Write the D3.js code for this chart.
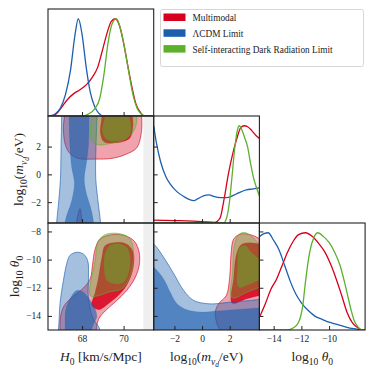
<!DOCTYPE html>
<html>
<head>
<meta charset="utf-8">
<script src="https://cdn.jsdelivr.net/npm/d3@7"></script>
<style>
  body { margin: 0; background: #fff; }
  svg { display: block; }
  text { font-family: "Liberation Serif", "DejaVu Serif", serif; fill: #222; }
</style>
</head>
<body>
<div id="chart"></div>
<script>
// series
const names = ["Multimodal", "ΛCDM Limit", "Self-interacting Dark Radiation Limit"];
const colors = ["#d6001c", "#1d5fae", "#5cb02c"];
const opac95 = [0.36, 0.4, 0.36];
const opac68 = [0.85, 0.62, 0.5];

// ticks
const h0Ticks = [68, 70];
const mTicks = [-2, 0, 2];
const thRowTicks = [-14, -12, -10, -8];
const thColTicks = [-14, -12, -10];
const priorH0 = 70.95; // grey band above this H0

// 1D marginals [value, density]
const pdfH0Multi = [[66.36,0],[66.55,0],[66.8,0.03],[67.05,0.1],[67.3,0.17],[67.6,0.23],[67.9,0.27],[68.2,0.32],[68.5,0.4],[68.75,0.5],[68.95,0.65],[69.2,0.85],[69.4,0.97],[69.6,1.0],[69.8,0.93],[70.0,0.75],[70.2,0.52],[70.4,0.3],[70.6,0.12],[70.8,0.04],[71.0,0],[71.45,0]];
const pdfH0Lcdm = [[66.36,0],[66.6,0.01],[66.8,0.04],[66.95,0.08],[67.2,0.22],[67.45,0.48],[67.65,0.82],[67.82,1.0],[68.0,0.84],[68.2,0.5],[68.4,0.24],[68.6,0.1],[68.8,0.03],[69.05,0],[71.45,0]];
const pdfH0Sidr = [[66.36,0],[68.0,0],[68.3,0.02],[68.6,0.07],[68.85,0.18],[69.05,0.42],[69.25,0.75],[69.45,0.95],[69.65,1.0],[69.85,0.9],[70.05,0.7],[70.25,0.45],[70.45,0.22],[70.65,0.08],[70.85,0.02],[71.05,0],[71.45,0]];

const pdfMMulti = [[-3.5,0.03],[-2,0.025],[0,0.015],[0.9,0.006],[1.3,0.05],[1.6,0.25],[1.9,0.5],[2.2,0.7],[2.5,0.86],[2.8,0.98],[3.05,1.0],[3.3,0.99],[3.6,0.95],[3.9,0.9],[4.15,0.87]];
const pdfMLcdm = [[-3.5,1.0],[-3.3,0.82],[-3.0,0.63],[-2.6,0.47],[-2.3,0.4],[-1.8,0.32],[-1.3,0.27],[-0.9,0.24],[-0.6,0.23],[-0.3,0.25],[0.1,0.28],[0.5,0.29],[0.9,0.27],[1.3,0.26],[1.8,0.26],[2.5,0.3],[3.2,0.34],[3.7,0.35],[4.15,0.36]];
const pdfMSidr = [[-3.5,0],[1.55,0],[1.75,0.04],[1.95,0.18],[2.15,0.45],[2.35,0.75],[2.55,0.95],[2.7,1.0],[2.9,0.95],[3.1,0.87],[3.3,0.78],[3.5,0.62],[3.7,0.48],[3.9,0.38],[4.15,0.28]];

const pdfThMulti = [[-15.03,0.13],[-14.6,0.27],[-14.2,0.42],[-13.8,0.52],[-13.4,0.66],[-13.0,0.8],[-12.6,0.91],[-12.2,0.98],[-11.7,1.0],[-11.2,0.96],[-10.7,0.88],[-10.3,0.8],[-9.9,0.68],[-9.5,0.53],[-9.1,0.36],[-8.7,0.18],[-8.3,0.07],[-7.9,0.02],[-7.6,0],[-7.4,0]];
const pdfThLcdm = [[-15.03,0.96],[-14.7,0.99],[-14.4,1.0],[-14.0,0.92],[-13.6,0.82],[-13.2,0.66],[-12.8,0.5],[-12.4,0.37],[-12.0,0.28],[-11.5,0.2],[-11.0,0.14],[-10.5,0.11],[-10.0,0.08],[-9.5,0.06],[-9.0,0.04],[-8.5,0.02],[-8.0,0.01],[-7.6,0],[-7.4,0]];
const pdfThSidr = [[-15.03,0],[-13.0,0],[-12.6,0.02],[-12.2,0.08],[-11.9,0.25],[-11.7,0.5],[-11.4,0.8],[-11.1,0.95],[-10.8,1.0],[-10.4,0.96],[-10.0,0.9],[-9.6,0.8],[-9.2,0.66],[-8.9,0.5],[-8.7,0.38],[-8.4,0.2],[-8.2,0.1],[-7.9,0.03],[-7.6,0],[-7.4,0]];

// 2D contours (95% and 68%), [x, y] in data units
const h0mMulti95 = [[67.2,6],[67.15,4.2],[67.1,3.3],[67.2,2.1],[67.42,1.5],[67.82,1.15],[68.63,1.1],[69.43,1.15],[70.07,1.42],[70.63,1.9],[70.84,2.85],[70.88,3.8],[70.85,4.5],[70.8,6]];
const h0mMultiLow = [[67.68,-5],[67.72,-3.6],[67.9,-2.47],[68.0,-3.6],[68.06,-5]];
const h0mMulti68 = [[69.0,6],[68.95,4.2],[68.88,3.0],[69.05,2.35],[69.7,2.28],[70.3,2.6],[70.45,3.4],[70.42,4.5],[70.4,6]];
const h0mLcdm95 = [[67.03,6.5],[67.02,4.2],[66.99,2.1],[66.96,-0.3],[66.86,-2.2],[66.75,-3.9],[66.7,-5.5],[68.95,-5.5],[68.92,-3.9],[68.79,-2.2],[68.66,-0.3],[68.67,2.1],[68.72,4.2],[68.74,6.5]];
const h0mLcdm68 = [[67.36,6.5],[67.37,4.2],[67.41,2.1],[67.5,0.5],[67.63,-0.6],[67.5,-1.9],[67.18,-3.4],[67.1,-5.5],[68.62,-5.5],[68.59,-3.9],[68.47,-2.7],[68.18,-1.2],[68.11,-0.3],[68.22,0.9],[68.31,2.1],[68.34,4.2],[68.35,6.5]];
const h0mSidr95 = [[68.5,6],[68.47,4.2],[68.39,3.1],[68.47,2.4],[68.79,2.13],[69.43,2.25],[70.07,2.5],[70.47,3.1],[70.63,3.8],[70.6,4.5],[70.6,6]];
const h0mSidr68 = [[69.15,6],[69.11,4.2],[68.98,3.1],[69.19,2.5],[69.75,2.42],[70.23,2.73],[70.36,3.45],[70.25,4.3],[70.2,6]];

const h0thMulti95 = [[66.9,-16.5],[66.94,-15.4],[66.96,-14.08],[67.15,-13.25],[67.58,-12.61],[68.06,-12.03],[68.39,-11.37],[68.51,-10.31],[68.63,-9.25],[68.87,-8.54],[69.43,-8.23],[70.07,-8.3],[70.52,-8.7],[70.75,-9.48],[70.75,-10.42],[70.55,-11.3],[70.15,-12.19],[69.59,-13.02],[69.11,-13.65],[68.79,-14.26],[68.65,-15.4],[68.6,-16.5]];
const h0thMulti68 = [[68.47,-13.25],[68.63,-12.31],[68.79,-11.25],[68.95,-9.84],[69.11,-9.0],[69.59,-8.78],[70.15,-8.89],[70.47,-9.48],[70.47,-10.54],[70.23,-11.6],[69.83,-12.43],[69.27,-13.13],[68.79,-13.56]];
const h0thLcdm95 = [[66.7,-16.5],[66.86,-15.0],[66.94,-13.1],[67.1,-11.5],[67.26,-10.3],[67.42,-9.7],[67.74,-9.48],[68.06,-9.6],[68.27,-10.07],[68.31,-11.25],[68.3,-12.66],[68.5,-14.08],[68.87,-15.0],[68.95,-16.5]];
const h0thLcdm68 = [[67.15,-16.5],[67.18,-15.0],[67.21,-13.6],[67.42,-12.78],[67.74,-12.2],[68.06,-12.31],[68.39,-12.9],[68.63,-13.5],[68.71,-14.08],[68.55,-14.6],[68.47,-15.0],[68.45,-16.5]];
const h0thSidr95 = [[68.39,-12.54],[68.63,-10.07],[68.79,-8.66],[69.19,-8.19],[69.91,-8.19],[70.31,-8.54],[70.47,-9.36],[70.43,-10.54],[70.23,-11.48],[69.91,-12.07],[69.27,-12.31],[68.63,-12.61]];
const h0thSidr68 = [[69.08,-10.78],[69.11,-9.6],[69.35,-9.0],[69.75,-8.89],[70.15,-9.13],[70.31,-9.84],[70.23,-11.0],[69.99,-11.6],[69.59,-11.72],[69.19,-11.48]];

const mthMulti95 = [[1.5,-16.5],[1.45,-15.4],[1.08,-14.55],[0.96,-13.72],[1.2,-13.13],[1.76,-12.54],[2.0,-11.25],[2.1,-9.6],[2.29,-8.54],[2.78,-8.19],[3.5,-8.23],[3.98,-8.42],[4.6,-8.8],[5.2,-9.3],[5.2,-16.5]];
const mthMulti68 = [[2.17,-13.09],[2.29,-11.25],[2.49,-9.6],[2.82,-8.94],[3.5,-8.8],[4.22,-8.89],[5,-9.0],[5,-12.5],[4.22,-12.54],[3.26,-12.78]];
const mthLcdm95 = [[-4.5,-8.3],[-3.5,-8.89],[-2.78,-9.84],[-2.05,-11.0],[-1.33,-12.19],[-0.61,-12.9],[0.36,-13.13],[1.08,-13.13],[2.05,-13.02],[3.5,-12.9],[4.5,-12.78],[5,-12.7],[5,-16.5],[-4.5,-16.5]];
const mthLcdm68 = [[-4.5,-10.0],[-3.5,-10.54],[-2.78,-11.37],[-2.3,-12.31],[-1.81,-13.13],[-1.09,-13.56],[-0.12,-13.72],[1.08,-13.65],[2.29,-13.56],[4.22,-13.42],[5,-13.35],[5,-16.5],[-4.5,-16.5]];
const mthSidr95 = [[2.17,-12.71],[2.22,-10.78],[2.34,-9.0],[2.65,-8.23],[3.07,-8.07],[3.62,-8.37],[4.1,-8.85],[4.6,-9.2],[5,-9.5],[5,-11.9],[4.22,-11.96],[3.26,-12.31]];
const mthSidr68 = [[2.65,-11.96],[2.58,-10.31],[2.73,-9.13],[3.14,-9.0],[3.5,-9.41],[3.98,-9.84],[4.6,-10.2],[5,-10.4],[5,-11.4],[4.22,-11.44],[3.5,-11.72]];

// layout
const L = 48, T = 9, W = 105.7, H = 107;
const svg = d3.select("#chart").append("svg")
  .attr("width", 374)
  .attr("height", 374);

const xH0 = d3.scaleLinear().domain([66.36, 71.45]).range([L, L + W]);
const xM = d3.scaleLinear().domain([-3.5, 4.15]).range([L + W, L + 2 * W]);
const xTh = d3.scaleLinear().domain([-15.03, -7.4]).range([L + 2 * W, L + 3 * W]);
const yM = d3.scaleLinear().domain([-3.5, 4.2]).range([T + 2 * H, T + H]);
const yTh = d3.scaleLinear().domain([-15, -7.4]).range([T + 3 * H, T + 2 * H]);
const yPdf = row => d3.scaleLinear().domain([0, 1.1]).range([T + (row + 1) * H, T + row * H]);

const panels = [
  { id: "p11", col: 0, row: 0, x: xH0, y: yPdf(0), xt: h0Ticks, yt: null, xl: false, yl: false },
  { id: "p21", col: 0, row: 1, x: xH0, y: yM, xt: h0Ticks, yt: mTicks, xl: false, yl: true },
  { id: "p22", col: 1, row: 1, x: xM, y: yPdf(1), xt: mTicks, yt: mTicks, ylScale: yM, xl: false, yl: false },
  { id: "p31", col: 0, row: 2, x: xH0, y: yTh, xt: h0Ticks, yt: thRowTicks, xl: true, yl: true },
  { id: "p32", col: 1, row: 2, x: xM, y: yTh, xt: mTicks, yt: thRowTicks, xl: true, yl: false },
  { id: "p33", col: 2, row: 2, x: xTh, y: yPdf(2), xt: thColTicks, yt: thRowTicks, ylScale: yTh, xl: true, yl: false },
];

const defs = svg.append("defs");
const groups = {};
panels.forEach(p => {
  const x0 = L + p.col * W, y0 = T + p.row * H;
  defs.append("clipPath").attr("id", "clip-" + p.id)
    .append("rect").attr("x", x0).attr("y", y0).attr("width", W).attr("height", H);
  groups[p.id] = svg.append("g").attr("clip-path", `url(#clip-${p.id})`);
  p.x0 = x0; p.y0 = y0;
});

// prior band
["p21", "p31"].forEach(id => {
  const p = panels.find(d => d.id === id);
  groups[id].append("rect")
    .attr("x", xH0(priorH0)).attr("y", p.y0)
    .attr("width", L + W - xH0(priorH0)).attr("height", H)
    .attr("fill", "#efefef");
});

// 2D contours
function drawContour(id, sx, sy, pts, ci, level) {
  const shape = d3.line()
    .x(d => sx(d[0]))
    .y(d => sy(d[1]))
    .curve(d3.curveCatmullRomClosed.alpha(0.5));
  groups[id].append("path")
    .attr("d", shape(pts))
    .attr("fill", colors[ci])
    .attr("fill-opacity", level === 95 ? opac95[ci] : opac68[ci])
    .attr("stroke", colors[ci])
    .attr("stroke-width", level === 95 ? 0.9 : 0.4)
    .attr("stroke-opacity", level === 95 ? 0.7 : 0.3);
}

drawContour("p21", xH0, yM, h0mMulti95, 0, 95);
drawContour("p21", xH0, yM, h0mMultiLow, 0, 95);
drawContour("p21", xH0, yM, h0mMulti68, 0, 68);
drawContour("p21", xH0, yM, h0mLcdm95, 1, 95);
drawContour("p21", xH0, yM, h0mLcdm68, 1, 68);
drawContour("p21", xH0, yM, h0mSidr95, 2, 95);
drawContour("p21", xH0, yM, h0mSidr68, 2, 68);

drawContour("p31", xH0, yTh, h0thMulti95, 0, 95);
drawContour("p31", xH0, yTh, h0thMulti68, 0, 68);
drawContour("p31", xH0, yTh, h0thLcdm95, 1, 95);
drawContour("p31", xH0, yTh, h0thLcdm68, 1, 68);
drawContour("p31", xH0, yTh, h0thSidr95, 2, 95);
drawContour("p31", xH0, yTh, h0thSidr68, 2, 68);

drawContour("p32", xM, yTh, mthMulti95, 0, 95);
drawContour("p32", xM, yTh, mthMulti68, 0, 68);
drawContour("p32", xM, yTh, mthLcdm95, 1, 95);
drawContour("p32", xM, yTh, mthLcdm68, 1, 68);
drawContour("p32", xM, yTh, mthSidr95, 2, 95);
drawContour("p32", xM, yTh, mthSidr68, 2, 68);

// 1D marginals
function drawPdf(id, sx, sy, pts, ci) {
  const line = d3.line()
    .x(d => sx(d[0]))
    .y(d => sy(d[1]))
    .curve(d3.curveMonotoneX);
  groups[id].append("path")
    .attr("d", line(pts))
    .attr("fill", "none")
    .attr("stroke", colors[ci])
    .attr("stroke-width", 1.3);
}

drawPdf("p11", xH0, yPdf(0), pdfH0Multi, 0);
drawPdf("p11", xH0, yPdf(0), pdfH0Lcdm, 1);
drawPdf("p11", xH0, yPdf(0), pdfH0Sidr, 2);
drawPdf("p22", xM, yPdf(1), pdfMMulti, 0);
drawPdf("p22", xM, yPdf(1), pdfMLcdm, 1);
drawPdf("p22", xM, yPdf(1), pdfMSidr, 2);
drawPdf("p33", xTh, yPdf(2), pdfThMulti, 0);
drawPdf("p33", xTh, yPdf(2), pdfThLcdm, 1);
drawPdf("p33", xTh, yPdf(2), pdfThSidr, 2);

// axes and frames
const fmt = d3.format("d");
panels.forEach(p => {
  const xa = svg.append("g")
    .attr("transform", `translate(0,${p.y0 + H})`)
    .call(d3.axisBottom(p.x).tickValues(p.xt).tickSize(-4).tickPadding(5)
      .tickFormat(p.xl ? fmt : ""));
  xa.select(".domain").remove();
  xa.selectAll("line").attr("stroke", "#222");
  xa.selectAll("text").attr("font-size", 9.5).attr("font-family", null);

  if (p.yt) {
    const ys = p.ylScale || p.y;
    const ya = svg.append("g")
      .attr("transform", `translate(${p.x0},0)`)
      .call(d3.axisLeft(ys).tickValues(p.yt).tickSize(-4).tickPadding(7)
        .tickFormat(p.yl ? fmt : ""));
    ya.select(".domain").remove();
    ya.selectAll("line").attr("stroke", "#222");
    ya.selectAll("text").attr("font-size", 9.5).attr("font-family", null);
  }

  svg.append("rect")
    .attr("x", p.x0).attr("y", p.y0)
    .attr("width", W).attr("height", H)
    .attr("fill", "none")
    .attr("stroke", "#222")
    .attr("stroke-width", 1.1);
});

// axis labels
function addLabel(x, y, parts, rotate) {
  const t = svg.append("text")
    .attr("text-anchor", "middle")
    .attr("font-size", 13.5)
    .attr("transform", `translate(${x},${y})` + (rotate ? " rotate(-90)" : ""));
  const shift = [0, 3.5, 5.5];
  const size = [13.5, 9.5, 7.5];
  let level = 0;
  parts.forEach(part => {
    const lv = part.sub || 0;
    t.append("tspan")
      .attr("dy", shift[lv] - shift[level])
      .attr("font-size", size[lv])
      .attr("font-style", part.it ? "italic" : null)
      .text(part.t);
    level = lv;
  });
}

const labelH0 = [{ t: "H", it: 1 }, { t: "0", sub: 1 }, { t: "\u00a0[km/s/Mpc]" }];
const labelM = [{ t: "log" }, { t: "10", sub: 1 }, { t: "(" }, { t: "m", it: 1 }, { t: "ν", sub: 1, it: 1 }, { t: "d", sub: 2, it: 1 }, { t: "/eV)" }];
const labelTh = [{ t: "log" }, { t: "10", sub: 1 }, { t: "\u00a0" }, { t: "θ", it: 1 }, { t: "0", sub: 1 }];

addLabel(L + W / 2, 361, labelH0, false);
addLabel(L + 1.5 * W, 361, labelM, false);
addLabel(L + 2.5 * W, 361, labelTh, false);
addLabel(23, T + 1.5 * H, labelM, true);
addLabel(19, T + 2.5 * H, labelTh, true);

// legend
const legend = svg.append("g").attr("transform", "translate(160.5,9.5)");
legend.append("rect")
  .attr("width", 203).attr("height", 57).attr("rx", 2)
  .attr("fill", "#fff").attr("stroke", "#ccc").attr("stroke-width", 0.8);

names.forEach((name, i) => {
  const row = legend.append("g").attr("transform", `translate(0,${4 + i * 15.8})`);
  row.append("rect")
    .attr("x", 3).attr("y", 0)
    .attr("width", 22).attr("height", 7.5)
    .attr("fill", colors[i]);
  row.append("text")
    .attr("x", 32).attr("y", 7.5)
    .attr("font-size", 9.3)
    .text(name);
});
</script>
</body>
</html>
